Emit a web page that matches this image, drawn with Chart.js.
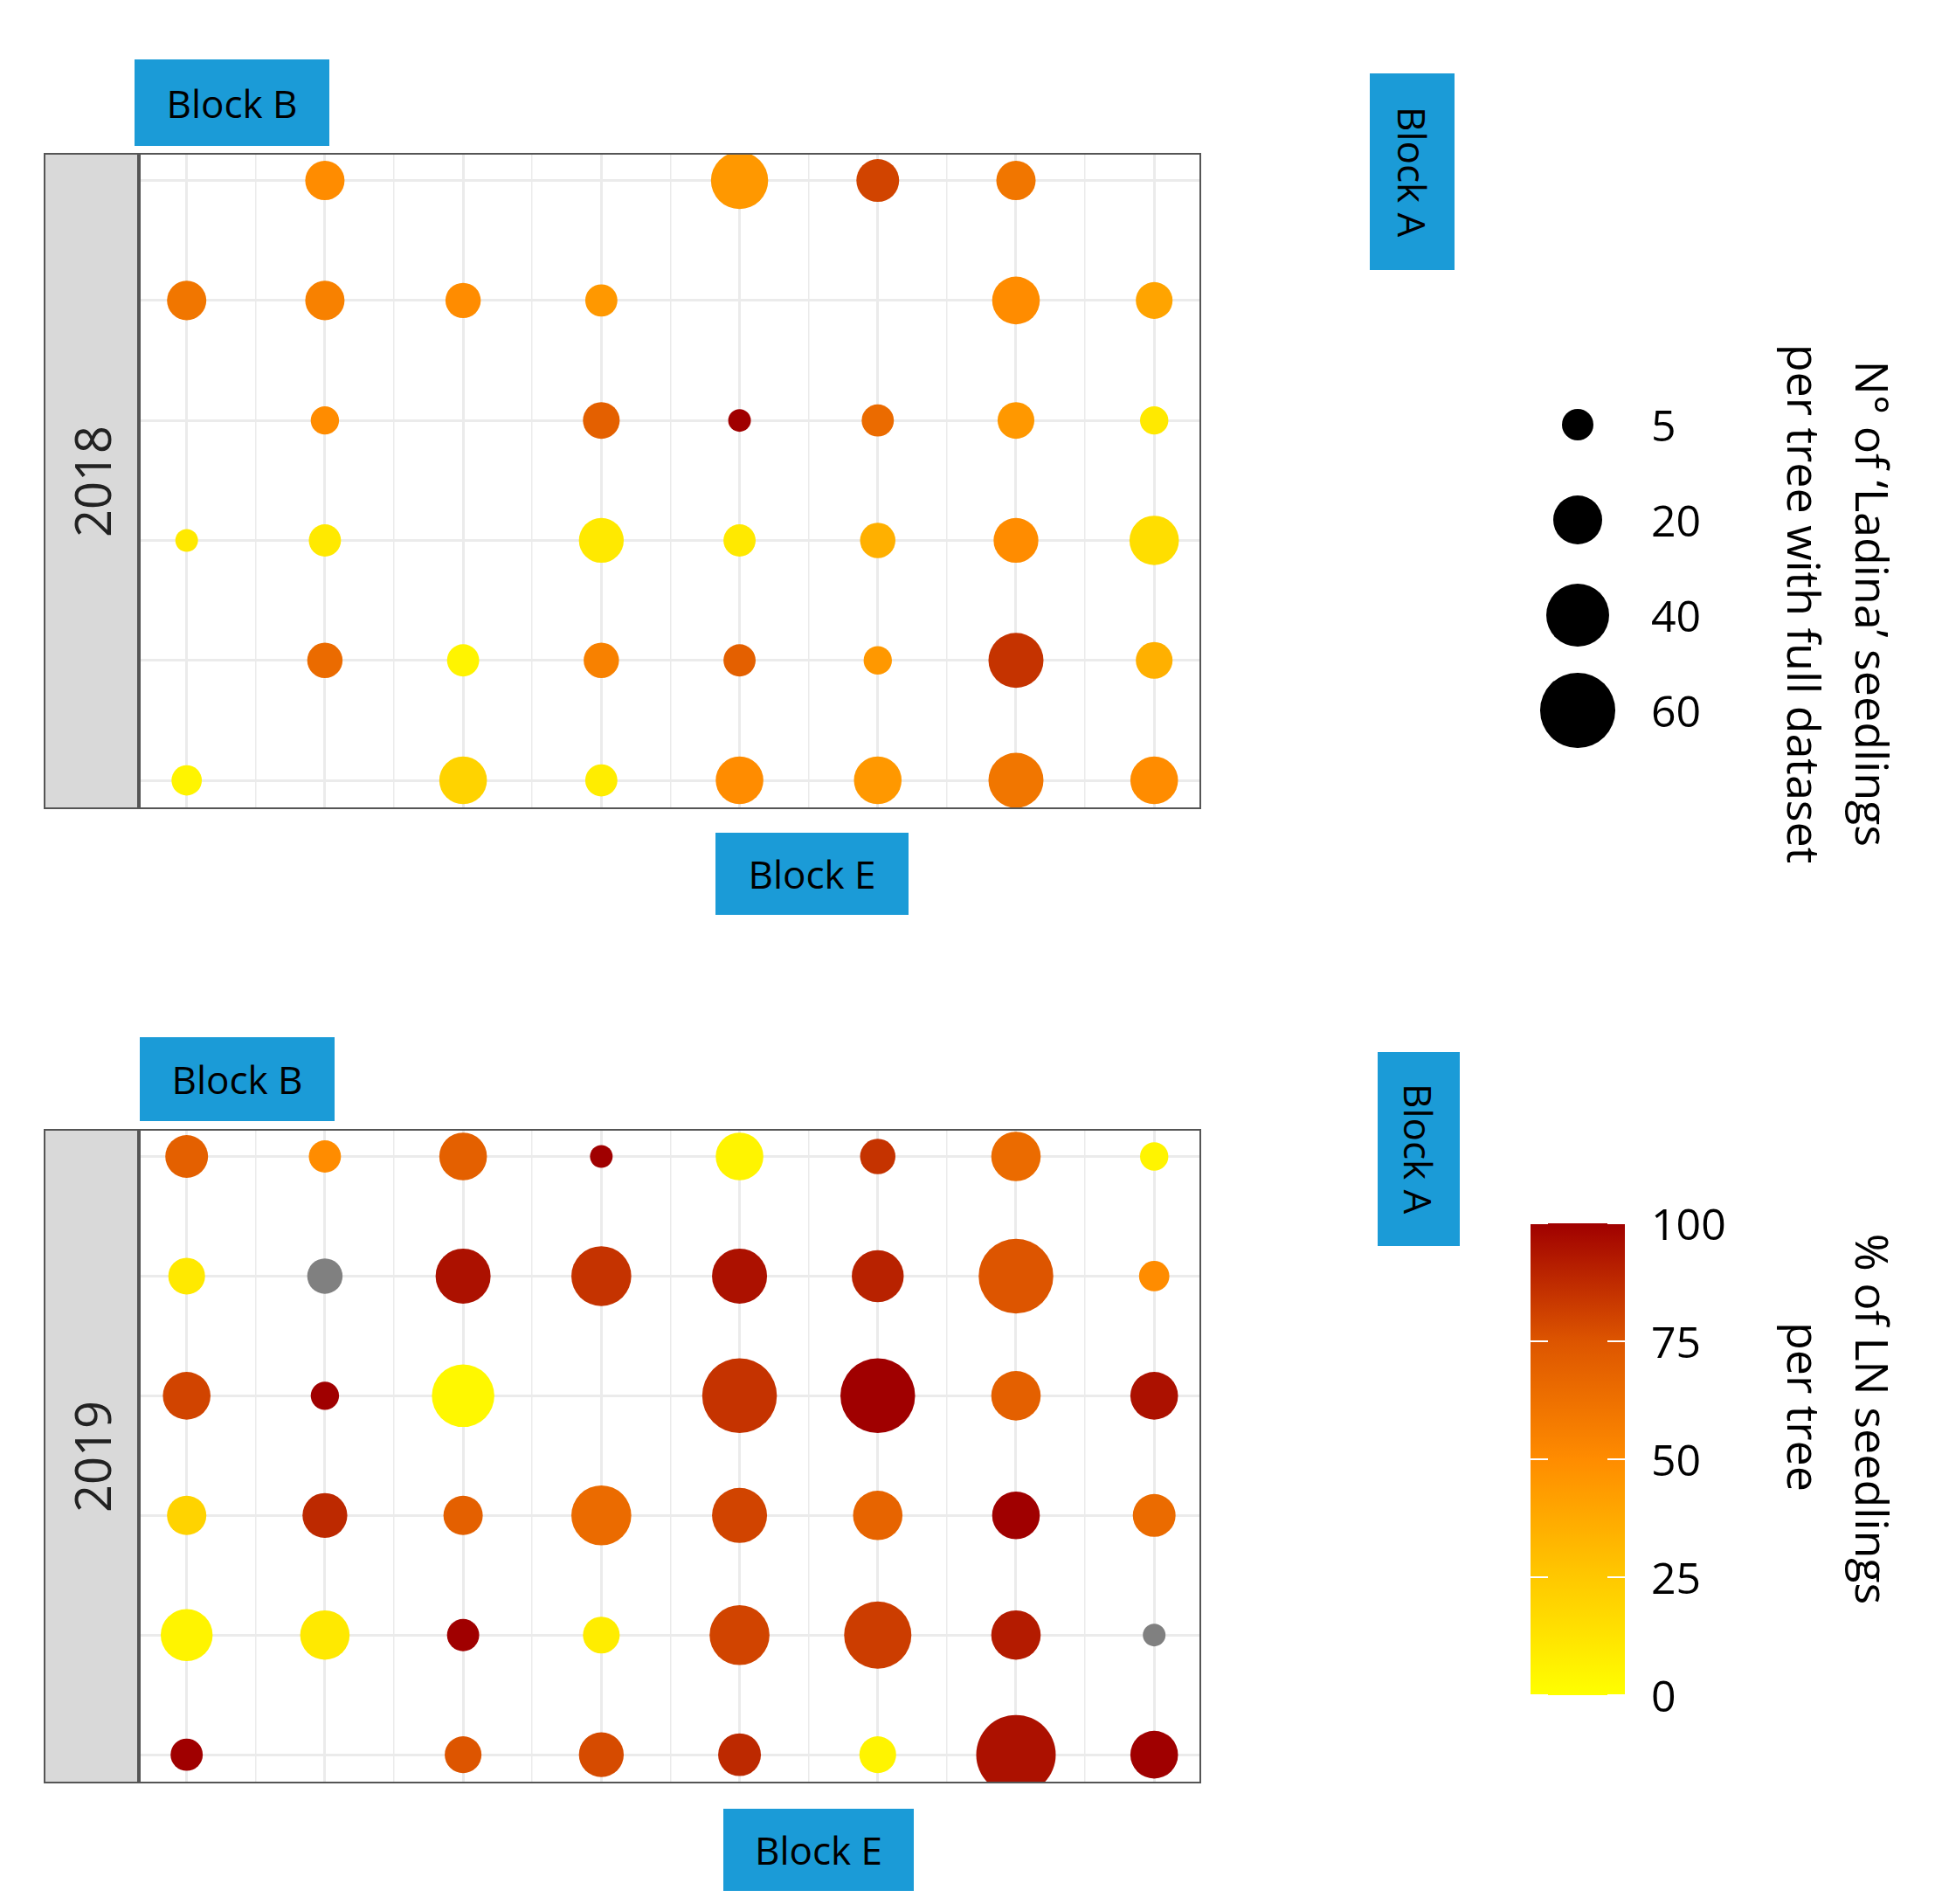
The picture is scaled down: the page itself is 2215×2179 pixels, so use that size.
<!DOCTYPE html>
<html><head><meta charset="utf-8">
<script src="https://cdn.jsdelivr.net/npm/chart.js@4"></script>
<style>
body{margin:0;width:2215px;height:2179px;background:#fff;position:relative;font-family:"Open Sans","Liberation Sans",sans-serif;overflow:hidden}
.abs{position:absolute}
.blue{position:absolute;background:#1b9bd7;color:#000;font-size:44px;display:flex;align-items:center;justify-content:center}
.vert{writing-mode:vertical-rl}
.strip{position:absolute;background:#d9d9d9;border:2px solid #555;box-sizing:border-box;display:flex;align-items:center;justify-content:center}
.strip span{transform:rotate(-90deg);font-size:56px;color:#222}
.panel{position:absolute;border:2px solid #555;box-sizing:border-box}
.lab{position:absolute;font-size:50px;color:#000;transform:translateY(-50%)}
.ttl{position:absolute;font-size:52px;color:#000;writing-mode:vertical-rl;transform:translateY(-50%);white-space:nowrap;line-height:1}
</style></head><body>
<div class="strip" style="left:50px;top:175px;width:111px;height:751px"><span>2018</span></div>
<div class="strip" style="left:50px;top:1292px;width:111px;height:749px"><span>2019</span></div>
<div class="abs" style="left:161px;top:175px;width:1214px;height:751px"><canvas id="c1"></canvas></div>
<div class="abs" style="left:161px;top:1292px;width:1214px;height:749px"><canvas id="c2"></canvas></div>
<div class="panel" style="left:157px;top:175px;width:1218px;height:751px"></div>
<div class="panel" style="left:157px;top:1292px;width:1218px;height:749px"></div>
<div class="blue" style="left:154px;top:68px;width:223px;height:99px">Block B</div>
<div class="blue" style="left:160px;top:1187px;width:223px;height:96px">Block B</div>
<div class="blue" style="left:819px;top:953px;width:221px;height:94px">Block E</div>
<div class="blue" style="left:828px;top:2070px;width:218px;height:94px">Block E</div>
<div class="blue vert" style="left:1568px;top:84px;width:97px;height:225px">Block A</div>
<div class="blue vert" style="left:1577px;top:1204px;width:94px;height:222px">Block A</div>
<div id="sizeLeg"></div>
<div class="ttl" style="left:2118px;top:691px">N° of ‘Ladina’ seedlings</div>
<div class="ttl" style="left:2040px;top:691px">per tree with full dataset</div>
<div class="abs" style="left:1752px;top:1400px;width:108px;height:540px;background:linear-gradient(to top,#ffff00 0%,#ffc800 25%,#ff8c00 50%,#dd5500 75%,#a00000 100%)"></div>
<div id="cbTicks"></div>
<div class="ttl" style="left:2118px;top:1624px">% of LN seedlings</div>
<div class="ttl" style="left:2040px;top:1610px">per tree</div>
<script>
const columns=[1,2,3,4,5,6,7,8];
const rows=[1,2,3,4,5,6];
// [col,row,count,percent] percent null = NA
const data2018=[
[2,1,10,50],[5,1,30,45],[6,1,13,80],[7,1,10,60],
[1,2,10,60],[2,2,10,55],[3,2,7,50],[4,2,5,45],[7,2,18,50],[8,2,8,40],
[2,3,3,50],[4,3,8,70],[5,3,1,100],[6,3,5,65],[7,3,8,45],[8,3,3,10],
[1,4,1,10],[2,4,5,10],[4,4,15,10],[5,4,5,10],[6,4,7,35],[7,4,15,50],[8,4,20,15],
[2,5,7,65],[3,5,5,5],[4,5,7,55],[5,5,5,70],[6,5,3,45],[7,5,27,85],[8,5,8,35],
[1,6,4,5],[3,6,18,20],[4,6,5,8],[5,6,18,50],[6,6,18,45],[7,6,27,60],[8,6,18,50]];
const data2019=[
[1,1,13,70],[2,1,5,50],[3,1,18,70],[4,1,1,100],[5,1,18,5],[6,1,7,85],[7,1,20,65],[8,1,3,5],
[1,2,8,10],[2,2,7,null],[3,2,27,95],[4,2,34,85],[5,2,27,95],[6,2,23,90],[7,2,60,75],[8,2,4,50],
[1,3,18,80],[2,3,3,100],[3,3,38,3],[5,3,60,85],[6,3,60,100],[7,3,20,70],[8,3,18,95],
[1,4,10,20],[2,4,15,88],[3,4,10,70],[4,4,34,65],[5,4,27,80],[6,4,20,68],[7,4,18,100],[8,4,13,65],
[1,5,23,5],[2,5,20,10],[3,5,5,100],[4,5,8,8],[5,5,34,80],[6,5,46,82],[7,5,20,92],[8,5,1,null],
[1,6,5,100],[3,6,8,75],[4,6,15,78],[5,6,13,88],[6,6,8,5],[7,6,70,95],[8,6,18,100]];
const sizeBreaks=[5,20,40,60];
const colorBreaks=[0,25,50,75,100];

const S=1.4245;
function rad(v){return S*(6+3.1*Math.sqrt(v));}
const stops=[[0,[255,255,0]],[25,[255,200,0]],[50,[255,140,0]],[75,[221,85,0]],[100,[160,0,0]]];
function col(p){
  if(p==null) return '#808080';
  for(let i=1;i<stops.length;i++){ if(p<=stops[i][0]){const a=stops[i-1],b=stops[i];const t=(p-a[0])/(b[0]-a[0]);
    const c=a[1].map((x,k)=>Math.round(x+(b[1][k]-x)*t));return `rgb(${c})`;}}
  return 'rgb(160,0,0)';
}
function make(id,d){
  const pts=d.map(r=>({x:r[0],y:r[1],n:r[2],p:r[3]}));
  const gridTicks=[];for(let i=0.5;i<=8.5;i+=0.5)gridTicks.push(i);
  new Chart(document.getElementById(id),{type:'scatter',
    data:{datasets:[{data:pts,pointRadius:c=>rad(c.raw.n),pointHoverRadius:c=>rad(c.raw.n),
      backgroundColor:c=>col(c.raw.p),borderWidth:0}]},
    options:{responsive:true,maintainAspectRatio:false,animation:false,
      layout:{padding:0,autoPadding:false},plugins:{legend:{display:false},tooltip:{enabled:false}},
      scales:{
        x:{min:0.667,max:8.34,afterBuildTicks:a=>{a.ticks=gridTicks.map(v=>({value:v}));},
          ticks:{display:false,padding:0},border:{display:false},
          grid:{drawTicks:false,tickLength:0,color:'#ebebeb',lineWidth:c=>Number.isInteger(c.tick.value)?3:1.5}},
        y:{reverse:true,min:0.77,max:6.24,afterBuildTicks:a=>{a.ticks=rows.map(v=>({value:v}));},
          ticks:{display:false,padding:0},border:{display:false},
          grid:{drawTicks:false,tickLength:0,color:'#ebebeb',lineWidth:3}}
      }}});
}
make('c1',data2018);make('c2',data2019);

const sl=document.getElementById('sizeLeg');const ys=[486,595,704,813];
sizeBreaks.forEach((v,i)=>{const r=rad(v);
  sl.insertAdjacentHTML('beforeend',`<div class="abs" style="left:${1806-r}px;top:${ys[i]-r}px;width:${2*r}px;height:${2*r}px;border-radius:50%;background:#000"></div><div class="lab" style="left:1890px;top:${ys[i]}px">${v}</div>`);});
const cb=document.getElementById('cbTicks');
colorBreaks.forEach(v=>{const y=1940-v*5.4;
  cb.insertAdjacentHTML('beforeend',`<div class="abs" style="left:1752px;top:${y-1}px;width:20px;height:2px;background:#fff"></div><div class="abs" style="left:1840px;top:${y-1}px;width:20px;height:2px;background:#fff"></div><div class="lab" style="left:1890px;top:${y}px">${v}</div>`);});
</script></body></html>
